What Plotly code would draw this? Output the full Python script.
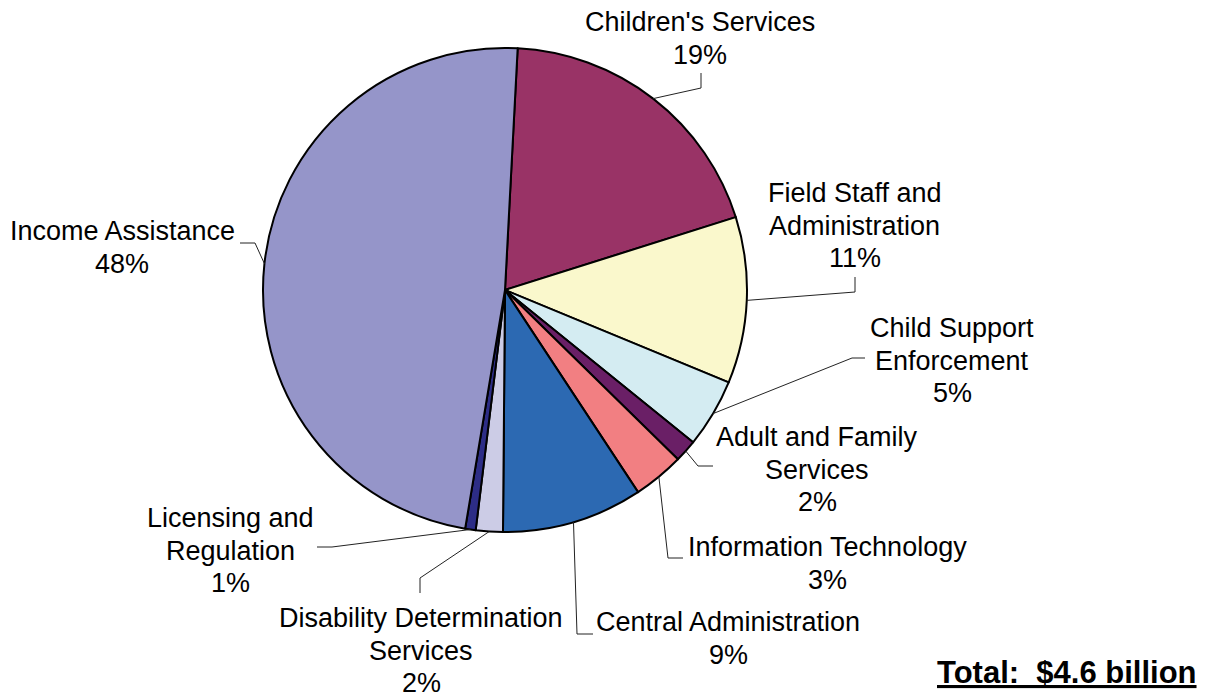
import math
import plotly.graph_objects as go

# page is rendered with an 8px body margin; figure pixel = page pixel - OFF
OFF = 8
W, H = 1217 - OFF, 692 - OFF

categories = ["Children's Services", "Field Staff and Administration", "Child Support Enforcement",
              "Adult and Family Services", "Information Technology", "Central Administration",
              "Disability Determination Services", "Licensing and Regulation", "Income Assistance"]
label_lines = [["Children's Services"], ["Field Staff and", "Administration"], ["Child Support", "Enforcement"],
               ["Adult and Family", "Services"], ["Information Technology"], ["Central Administration"],
               ["Disability Determination", "Services"], ["Licensing and", "Regulation"], ["Income Assistance"]]
shares = [19.3, 11.1, 4.6, 1.5, 3.4, 9.4, 1.8, 0.7, 48.2]
colors = ["#993366", "#FAF8CC", "#D4ECF2", "#6A1F66", "#F27F82", "#2C69B2", "#CCCCE6", "#2D2D86", "#9595C9"]
total_label = "Total:  $4.6 billion"

# label layout (page pixels): centre x, first-line centre y; leader-line bend / end points
label_x = [700, 855, 952, 817, 827, 728, 421, 230, 122]
label_y0 = [22, 193, 328, 437, 547, 622, 618, 518, 231]
line_gap = 32.7
leader_pts = [((701, 88), (701, 73)), ((855, 292), (855, 277)), ((852, 358), (865, 358)),
              ((698, 466), (713, 466)), ((668, 558), (683, 558)), ((577, 634), (593, 634)),
              ((420, 578), (420, 593)), ((332, 547), (317, 547)), ((255, 243), (240, 243))]

rotation = 3
cx_px, cy_px, r_px = 505, 290, 242   # page pixels

def px2paper(x, y):
    return (x - OFF) / W, 1 - (y - OFF) / H

x0, y1 = px2paper(cx_px - r_px, cy_px - r_px)
x1, y0 = px2paper(cx_px + r_px, cy_px + r_px)

fig = go.Figure(go.Pie(
    labels=categories, values=shares, sort=False, direction="clockwise", rotation=rotation,
    marker=dict(colors=colors, line=dict(color="#000000", width=2)),
    textinfo="none", hoverinfo="label+percent", showlegend=False,
    domain=dict(x=[x0, x1], y=[y0, y1]),
))

FONT = dict(family="Liberation Sans, Arial", size=27, color="#000000")
total = sum(shares)
cum = 0.0
shapes = []
annotations = []
for i, v in enumerate(shares):
    mid = rotation + (cum + v / 2) / total * 360
    cum += v
    th = math.radians(mid)
    ex, ey = cx_px + r_px * math.sin(th), cy_px - r_px * math.cos(th)
    (bx, by), (tx, ty) = leader_pts[i]
    p = [px2paper(ex, ey), px2paper(bx, by), px2paper(tx, ty)]
    path = "M {} {} L {} {} L {} {}".format(p[0][0], p[0][1], p[1][0], p[1][1], p[2][0], p[2][1])
    shapes.append(dict(type="path", xref="paper", yref="paper", path=path,
                       line=dict(color="#222222", width=1)))
    pct = round(v / total * 100)
    lines = label_lines[i] + [f"{pct}%"]
    for k, txt in enumerate(lines):
        lx, ly = px2paper(label_x[i], label_y0[i] + k * line_gap)
        annotations.append(dict(x=lx, y=ly, xref="paper", yref="paper", xanchor="center", yanchor="middle",
                                text=txt, showarrow=False, align="center", font=FONT))

tx, ty = px2paper(1067, 672)
annotations.append(dict(x=tx, y=ty, xref="paper", yref="paper", xanchor="center", yanchor="middle",
                        text=f"<b><u>{total_label}</u></b>", showarrow=False,
                        font=dict(family="Liberation Sans, Arial", size=31, color="#000000")))

fig.update_layout(width=W, height=H, margin=dict(l=0, r=0, t=0, b=0),
                  paper_bgcolor="white", plot_bgcolor="white",
                  shapes=shapes, annotations=annotations)
fig.write_html("out.html")
